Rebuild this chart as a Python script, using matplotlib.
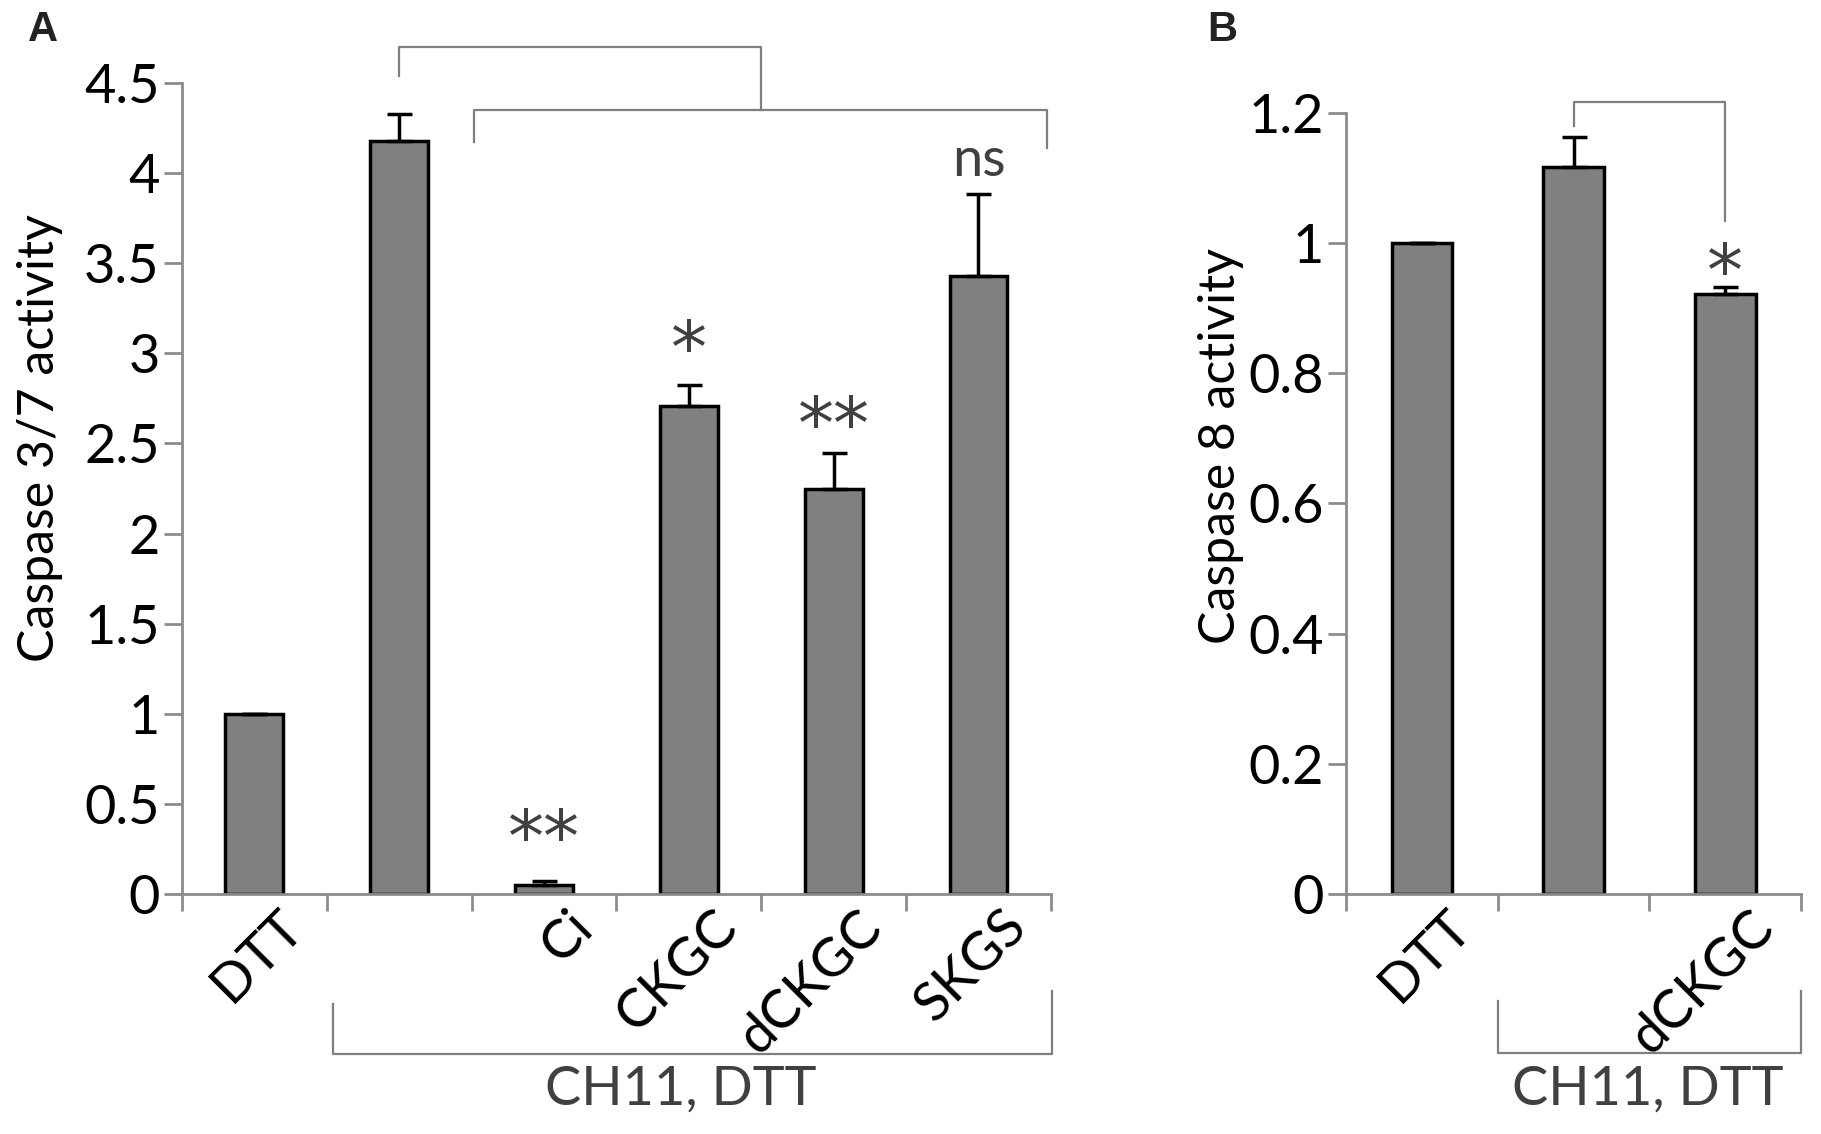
import numpy as np
import matplotlib
matplotlib.use('Agg')
import matplotlib.pyplot as plt
from matplotlib.transforms import ScaledTranslation

plt.rcParams['font.family'] = ['Lato', 'DejaVu Sans']
plt.rcParams['font.size'] = 40

# panel A: caspase 3/7
labels_a = ['DTT', '', 'Ci', 'CKGC', 'dCKGC', 'SKGS']
vals_a = [1.0, 4.18, 0.05, 2.71, 2.245, 3.43]
errs_a = [0.0, 0.15, 0.02, 0.115, 0.2, 0.455]
marks_a = ['', '', '**', '*', '**', 'ns']

# panel B: caspase 8
labels_b = ['DTT', '', 'dCKGC']
vals_b = [1.0, 1.117, 0.922]
errs_b = [0.0, 0.046, 0.01]
marks_b = ['', '', '*']

bar_c = '#808080'
ax_c = '#8c8c8c'
txt_c = '#404040'

fig = plt.figure(figsize=(18.21, 11.34), dpi=100)
axA = fig.add_axes([0.0999, 0.2116, 0.4772, 0.7152])
axB = fig.add_axes([0.7392, 0.2116, 0.2499, 0.6890])


def style(ax, n, ymax, step):
    x = np.arange(n)
    ax.set_xlim(-0.5, n - 0.5)
    ax.set_ylim(0, ymax)
    ax.set_yticks(np.arange(0, ymax + step / 2, step))
    for s in ['top', 'right']:
        ax.spines[s].set_visible(False)
    for s in ['left', 'bottom']:
        ax.spines[s].set_color(ax_c)
        ax.spines[s].set_linewidth(2)
    ax.set_xticks(x)
    ax.set_xticks(np.arange(n + 1) - 0.5, minor=True)
    ax.tick_params(axis='x', which='major', length=0, pad=2)
    ax.tick_params(axis='x', which='minor', length=12, width=2, color=ax_c)
    ax.tick_params(axis='y', length=13, width=2, color=ax_c, pad=3, labelsize=39)


def draw(ax, labels, vals, errs):
    x = np.arange(len(vals))
    ax.bar(x, vals, width=0.4, color=bar_c, edgecolor='black', linewidth=2.5, zorder=2)
    ax.errorbar(x, vals, yerr=[np.zeros(len(errs)), errs], fmt='none', ecolor='black',
                elinewidth=2.5, capsize=9, capthick=2.5, zorder=3)
    ax.set_xticklabels(labels, rotation=45, ha='right', va='center', rotation_mode='anchor',
                       fontsize=39)
    off = ScaledTranslation(0.40, -0.22, fig.dpi_scale_trans)
    for lab in ax.get_xticklabels():
        lab.set_transform(lab.get_transform() + off)


def bracket(ax, xs, ys, lw=1.6):
    ax.plot(xs, ys, color='#7f7f7f', lw=lw, clip_on=False, zorder=1)


def star(ax, x, y, s):
    # asterisks drawn with DejaVu so they are as big as in the figure
    ax.text(x, y, s, ha='center', va='baseline', fontsize=52, color=txt_c,
            family='DejaVu Sans', clip_on=False)


# ---- panel A
style(axA, 6, 4.5, 0.5)
axA.set_yticklabels(['0', '0.5', '1', '1.5', '2', '2.5', '3', '3.5', '4', '4.5'])
draw(axA, labels_a, vals_a, errs_a)
axA.set_ylabel('Caspase 3/7 activity', fontsize=36)
axA.yaxis.set_label_coords(-0.137, 0.562)

bracket(axA, [1.0, 1.0, 3.5, 3.5], [4.54, 4.70, 4.70, 4.35])
bracket(axA, [1.52, 1.52, 5.47, 5.47], [4.17, 4.35, 4.35, 4.14])
bracket(axA, [0.54, 0.54, 5.51, 5.51], [-0.61, -0.89, -0.89, -0.54])
axA.text(2.946, -1.083, 'CH11, DTT', ha='center', va='center', fontsize=39,
         color=txt_c, clip_on=False)

mark_y_a = [0, 0, 0.185, 2.895, 2.475, 4.07]
for i, m in enumerate(marks_a):
    if m == 'ns':
        axA.text(i, mark_y_a[i], m, ha='center', va='center', fontsize=39, color=txt_c)
    elif m:
        star(axA, i, mark_y_a[i], m)

# ---- panel B
style(axB, 3, 1.2, 0.2)
axB.set_yticklabels(['0', '0.2', '0.4', '0.6', '0.8', '1', '1.2'])
draw(axB, labels_b, vals_b, errs_b)
axB.set_ylabel('Caspase 8 activity', fontsize=36)
axB.yaxis.set_label_coords(-0.225, 0.573)

bracket(axB, [1.0, 1.0, 2.0, 2.0], [1.179, 1.217, 1.217, 1.033])
bracket(axB, [0.5, 0.5, 2.5, 2.5], [-0.165, -0.244, -0.244, -0.149])
axB.text(1.49, -0.30, 'CH11, DTT', ha='center', va='center', fontsize=39,
         color=txt_c, clip_on=False)
star(axB, 2, 0.92, marks_b[2])

fig.text(28 / 1821, 1 - 10 / 1134, 'A', ha='left', va='top', fontsize=30,
         fontweight='bold', family='Liberation Sans', color='#222222')
fig.text(1207 / 1821, 1 - 10 / 1134, 'B', ha='left', va='top', fontsize=30,
         fontweight='bold', family='Liberation Sans', color='#222222')

fig.savefig('out.png', dpi=100)
